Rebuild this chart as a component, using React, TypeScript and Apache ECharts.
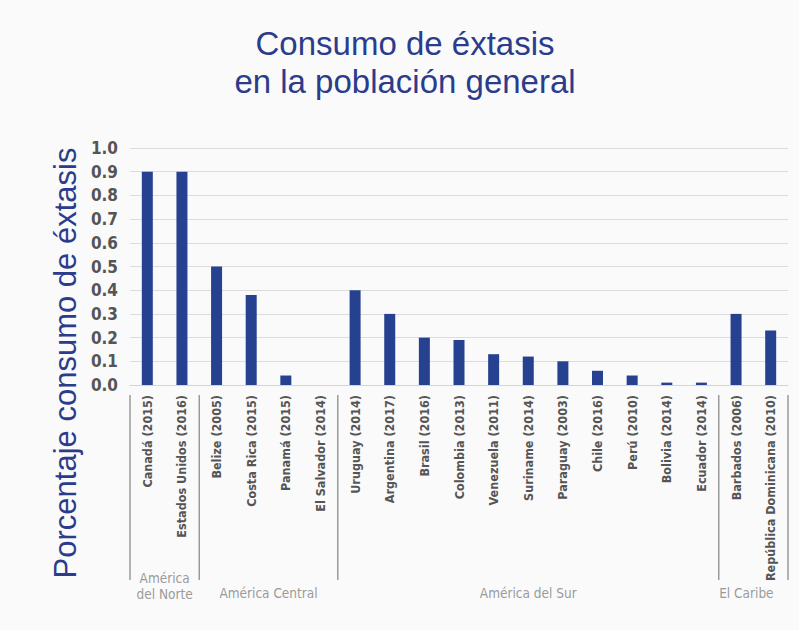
import React, { useEffect, useRef } from "react";
import * as echarts from "echarts";

const titleLines = ["Consumo de éxtasis", "en la población general"];
const yAxisTitle = "Porcentaje consumo de éxtasis";

const countries = [
  "Canadá (2015)",
  "Estados Unidos (2016)",
  "Belize (2005)",
  "Costa Rica (2015)",
  "Panamá (2015)",
  "El Salvador (2014)",
  "Uruguay (2014)",
  "Argentina (2017)",
  "Brasil (2016)",
  "Colombia (2013)",
  "Venezuela (2011)",
  "Suriname (2014)",
  "Paraguay (2003)",
  "Chile (2016)",
  "Perú (2010)",
  "Bolivia (2014)",
  "Ecuador (2014)",
  "Barbados (2006)",
  "República Dominicana (2010)",
];

const values = [
  0.9, 0.9, 0.5, 0.38, 0.04, 0, 0.4, 0.3, 0.2, 0.19, 0.13, 0.12, 0.1, 0.06,
  0.04, 0.01, 0.01, 0.3, 0.23,
];

const groupNames = ["América\ndel Norte", "América Central", "América del Sur", "El Caribe"];
const groupSizes = [2, 4, 11, 2];
const groupLabelShift = [0, 0, 0, -7];

const BLUE = "#2b3c8c";
const BAR = "#26418f";
const COND = "'DejaVu Sans Condensed', 'DejaVu Sans', sans-serif";
const SANS = "'Liberation Sans', Arial, sans-serif";

export default function App() {
  const ref = useRef<HTMLDivElement>(null);

  useEffect(() => {
    if (!ref.current) return;
    const chart = echarts.init(ref.current, undefined, { renderer: "svg" });
    chart.setOption({
      animation: false,
      backgroundColor: "#fafafa",
      grid: { left: 130, right: 11, top: 148, bottom: 245, containLabel: false },
      xAxis: {
        type: "category",
        data: countries,
        axisLine: { show: true, lineStyle: { color: "#d4d4d4", width: 1 } },
        axisTick: { show: false },
        axisLabel: {
          interval: 0,
          rotate: 90,
          margin: 10,
          fontFamily: COND,
          fontWeight: "bold",
          fontSize: 12.5,
          color: "#555",
        },
      },
      yAxis: {
        type: "value",
        min: 0,
        max: 1,
        interval: 0.1,
        axisLine: { show: false },
        axisTick: { show: false },
        splitLine: { lineStyle: { color: "#dcdcdc", width: 1 } },
        axisLabel: {
          formatter: (v: number) => v.toFixed(1),
          fontFamily: COND,
          fontWeight: "bold",
          fontSize: 17,
          color: "#555",
          margin: 12,
        },
      },
      series: [
        {
          type: "bar",
          data: values,
          barWidth: 11,
          itemStyle: { color: BAR },
        },
      ],
    });

    const px = (i: number) => chart.convertToPixel({ xAxisIndex: 0 }, i) as number;
    const y0 = chart.convertToPixel({ yAxisIndex: 0 }, 0) as number;
    const band = px(1) - px(0);
    const elements: any[] = [];

    elements.push({
      type: "text",
      x: 405,
      y: 24,
      style: {
        text: titleLines.join("\n"),
        font: `33px ${SANS}`,
        lineHeight: 38,
        fill: BLUE,
        textAlign: "center",
        align: "center",
        textVerticalAlign: "top",
        verticalAlign: "top",
      },
    });

    elements.push({
      type: "text",
      x: 65,
      y: 363,
      rotation: Math.PI / 2,
      style: {
        text: yAxisTitle,
        font: `31px ${SANS}`,
        fill: BLUE,
        textAlign: "center",
        align: "center",
        textVerticalAlign: "middle",
        verticalAlign: "middle",
      },
    });

    let start = 0;
    const boundaries: number[] = [];
    groupSizes.forEach((size, g) => {
      const end = start + size - 1;
      const left = px(start) - band / 2;
      const right = px(end) + band / 2;
      if (g === 0) boundaries.push(left);
      boundaries.push(right);
      const two = groupNames[g].includes("\n");
      elements.push({
        type: "text",
        x: (left + right) / 2 + groupLabelShift[g],
        y: two ? y0 + 201 : y0 + 208,
        style: {
          text: groupNames[g],
          font: `13.5px ${COND}`,
          lineHeight: 16,
          fill: "#9a9a9a",
          textAlign: "center",
          align: "center",
          textVerticalAlign: "middle",
          verticalAlign: "middle",
        },
      });
      start = end + 1;
    });

    boundaries.forEach((x) => {
      elements.push({
        type: "line",
        shape: { x1: x, y1: y0 + 10, x2: x, y2: y0 + 195 },
        style: { stroke: "#9a9a9a", lineWidth: 1.5 },
      });
    });

    chart.setOption({ graphic: { elements } });

    return () => chart.dispose();
  }, []);

  return (
    <div
      ref={ref}
      style={{ position: "fixed", left: 0, top: 0, width: 799, height: 630 }}
    />
  );
}
